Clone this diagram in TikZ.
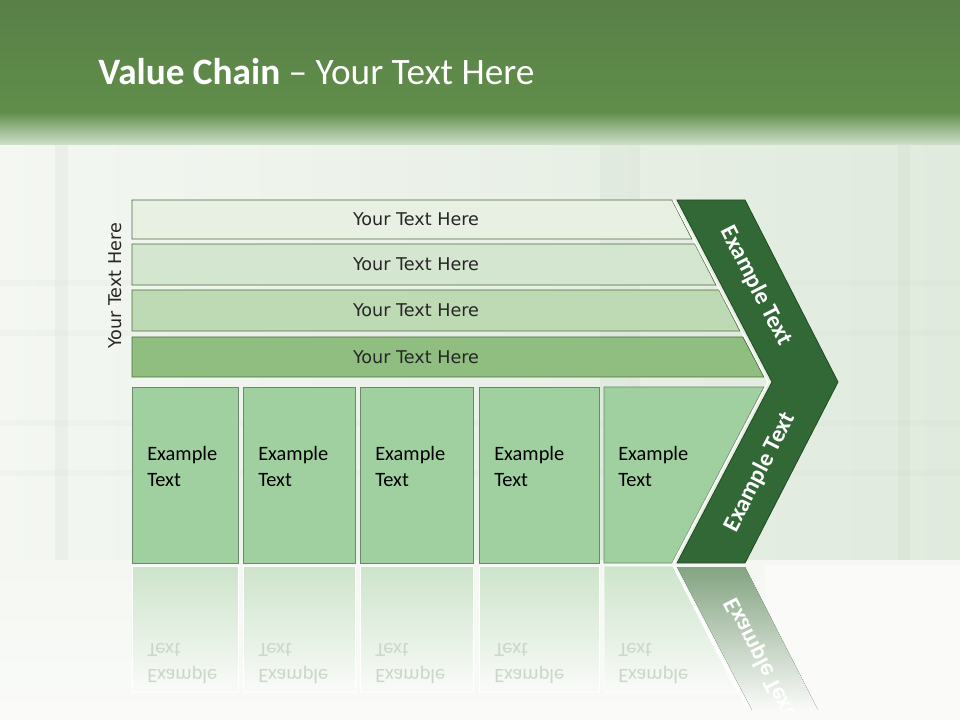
\documentclass[tikz,border=0pt]{standalone}
\usepackage{fontspec}
\setmainfont{Carlito}
\newfontfamily\tahomafont{DejaVu Sans}
\usetikzlibrary{calc}

\definecolor{hdrTop}{RGB}{88,128,72}
\definecolor{hdrMid}{RGB}{96,142,74}
\definecolor{hdrFade}{RGB}{208,224,204}
\definecolor{bgLeft}{RGB}{244,247,242}
\definecolor{bgRight}{RGB}{224,234,221}
\definecolor{bgLow}{RGB}{250,251,249}
\definecolor{bandGrey}{RGB}{200,212,198}
\definecolor{barA}{RGB}{232,240,228}
\definecolor{barB}{RGB}{213,230,208}
\definecolor{barC}{RGB}{190,218,180}
\definecolor{barD}{RGB}{144,190,128}
\definecolor{barLine}{RGB}{74,106,62}
\definecolor{cellFill}{RGB}{160,207,160}
\definecolor{cellLine}{RGB}{108,136,108}
\definecolor{cellMir}{RGB}{205,228,203}
\definecolor{mirGrey}{RGB}{204,214,202}
\definecolor{chevFill}{RGB}{50,104,54}
\definecolor{chevLine}{RGB}{34,76,38}
\definecolor{chevMir}{RGB}{132,164,130}

\begin{document}
\begin{tikzpicture}[x=0.025cm,y=-0.025cm]
  \tikzset{
    bar/.style={draw=barLine,line width=0.6pt},
    cell/.style={draw=cellLine,fill=cellFill,line width=0.6pt},
    cellMirror/.style={draw=white,line width=0.6pt,top color=cellMir,bottom color=bgLow},
    barTxt/.style={font=\tahomafont\fontsize{12.5}{14}\selectfont,text=black!85},
    cellTxt/.style={font=\fontsize{14.5}{18.5}\selectfont,align=left,anchor=north west,inner sep=0pt},
    mirTxt/.style={cellTxt,text=mirGrey,yscale=-1},
    chevTxt/.style={font=\bfseries\fontsize{17}{19}\selectfont,text=white}
  }
  \useasboundingbox (0,0) rectangle (960,720);

  % Background and header band
  \fill[left color=bgLeft,right color=bgRight] (0,145) rectangle (960,560);
  \fill[top color=bgLeft,bottom color=bgLow] (0,560) rectangle (960,720);
  \fill[bgLow] (765,565) rectangle (960,720);
  \foreach \xa/\xb in {55/68,600/640,898/910} {
    \fill[bandGrey,opacity=.18] (\xa,145) rectangle (\xb,560);
  }
  \foreach \yy in {280,330,420,470} {
    \fill[bandGrey,opacity=.1] (0,\yy) rectangle (960,\yy+6);
  }
  \fill[top color=hdrTop,bottom color=hdrMid] (0,0) rectangle (960,112);
  \fill[top color=hdrMid,bottom color=hdrFade] (0,112) rectangle (960,145);

  \node[font=\fontsize{26.5}{30}\selectfont,text=white,anchor=base west,inner sep=0pt]
    (title) at (98,85) {\textbf{Value Chain} -- Your Text Here};

  % Layered bars
  \foreach \ya/\yb/\xa/\xb/\c/\n in {200/239/672/692/barA/1,244/285/695/716/barB/2,
                                     290/331/719/740/barC/3,337/377/743/764/barD/4} {
    \draw[bar,fill=\c] (132,\ya) -- (\xa,\ya) -- (\xb,\yb) -- (132,\yb) -- cycle;
    \node[barTxt] (bar\n) at (416,{(\ya+\yb)/2}) {Your Text Here};
  }
  \node[barTxt,rotate=90] (side) at (115,286) {Your Text Here};

  % Activity cells and their reflection
  \foreach \xa/\xb/\n in {132/238/1,243/355/2,360/473/3,479/599/4} {
    \draw[cellMirror] (\xa,566) rectangle (\xb,692);
    \draw[cell] (\xa,387) rectangle (\xb,563);
    \node[cellTxt] (cell\n) at (\xa+15,446) {Example\\Text};
    \node[mirTxt] (mir\n) at (\xa+15,684) {Example\\Text};
  }
  \draw[cellMirror] (604,566) -- (673,566) -- (737,692) -- (604,692) -- cycle;
  \draw[cell] (604,387) -- (764,387) -- (672,563) -- (604,563) -- cycle;
  \node[cellTxt] (cell5) at (618,446) {Example\\Text};
  \node[mirTxt] (mir5) at (618,684) {Example\\Text};

  % Chevron (margin) with its reflection
  \begin{scope}
    \clip (677,567) -- (745,567) -- (818,710) -- (752,710) -- cycle;
    \fill[top color=chevMir,bottom color=bgLow] (670,567) rectangle (830,710);
    \node[chevTxt,rotate=-63,yscale=-1] (chevMir) at (760,658) {Example Text};
  \end{scope}
  \draw[white,line width=1.2pt] (674,567) -- (749,710);
  \draw[white,line width=1.2pt,opacity=.85] (673,200) -- (768,382) -- (673,563);
  \draw[chevLine,fill=chevFill,line width=0.6pt]
    (677,200) -- (745,200) -- (838,382) -- (745,563) -- (677,563) -- (772,382) -- cycle;
  \node[chevTxt,rotate=-63] (chevTop) at (756,286) {Example Text};
  \node[chevTxt,rotate=63] (chevBot) at (760,472) {Example Text};
\end{tikzpicture}
\end{document}
